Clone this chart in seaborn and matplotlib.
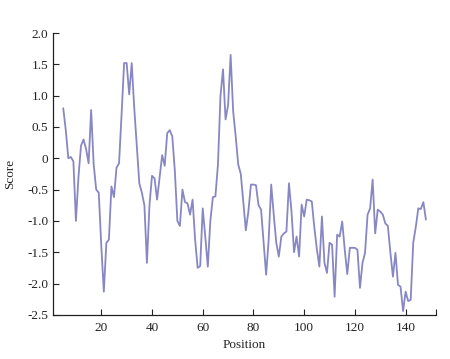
import numpy as np
import pandas as pd
import matplotlib
matplotlib.use("Agg")
import matplotlib.pyplot as plt
import seaborn as sns

# hydrophobicity-like profile, positions 5..148
positions = list(range(5, 149))
scores = [
    0.80, 0.45, 0.00, 0.02, -0.05, -1.00, -0.30, 0.20, 0.30, 0.15,
    -0.08, 0.77, -0.10, -0.50, -0.55, -1.40, -2.13, -1.35, -1.30, -0.45,
    -0.62, -0.15, -0.08, 0.70, 1.52, 1.52, 1.02, 1.52, 0.80, 0.20,
    -0.40, -0.55, -0.75, -1.67, -0.75, -0.28, -0.32, -0.66, -0.30, 0.05,
    -0.12, 0.40, 0.45, 0.35, -0.20, -1.00, -1.08, -0.50, -0.70, -0.72,
    -0.90, -0.66, -1.30, -1.75, -1.72, -0.80, -1.25, -1.73, -1.00, -0.62,
    -0.61, -0.10, 1.00, 1.42, 0.62, 0.85, 1.65, 0.75, 0.35, -0.10,
    -0.25, -0.70, -1.15, -0.85, -0.42, -0.42, -0.43, -0.75, -0.82, -1.35,
    -1.86, -1.30, -0.42, -0.90, -1.35, -1.57, -1.25, -1.20, -1.17, -0.40,
    -0.85, -1.50, -1.25, -1.57, -0.74, -0.93, -0.66, -0.67, -0.69, -1.10,
    -1.45, -1.73, -0.93, -1.67, -1.83, -1.35, -1.38, -2.21, -1.22, -1.25,
    -1.01, -1.46, -1.85, -1.43, -1.43, -1.43, -1.46, -2.07, -1.67, -1.51,
    -0.90, -0.80, -0.34, -1.20, -0.82, -0.85, -0.90, -1.04, -1.08, -1.51,
    -1.89, -1.51, -2.02, -2.05, -2.44, -2.13, -2.28, -2.26, -1.35, -1.10,
    -0.80, -0.81, -0.70, -0.98,
]

x_ticks = [20, 40, 60, 80, 100, 120, 140]
y_ticks = [2.0, 1.5, 1.0, 0.5, 0, -0.5, -1.0, -1.5, -2.0, -2.5]
y_labels = ["2.0", "1.5", "1.0", "0.5", "0", "-0.5", "-1.0", "-1.5", "-2.0", "-2.5"]

df = pd.DataFrame({"Position": positions, "Score": scores})

sns.set_style("ticks")
plt.rcParams['font.family'] = ['Liberation Serif', 'DejaVu Serif']

fig = plt.figure(figsize=(4.5, 3.59), dpi=100)
ax = fig.add_axes([0.118, 0.123, 0.851, 0.785])

sns.lineplot(data=df, x="Position", y="Score", color="#8787c4", linewidth=1.3, ax=ax)

ax.set_xlim(1, 152)
ax.set_ylim(-2.5, 2.0)
ax.set_xticks(x_ticks)
ax.set_xticks([152], minor=True)
ax.set_yticks(y_ticks)
ax.set_yticklabels(y_labels)

ax.tick_params(axis='both', which='both', direction='in', length=4, width=0.8, labelsize=9.5, colors='#222222')
ax.tick_params(axis='x', pad=5)
ax.set_xlabel('Position', fontsize=9.5, labelpad=4)
ax.set_ylabel('Score', fontsize=9.5, labelpad=8)

sns.despine(ax=ax)
for s in ['left', 'bottom']:
    ax.spines[s].set_linewidth(0.9)
    ax.spines[s].set_color('#222222')

fig.savefig("out.png", dpi=100, facecolor="white")
